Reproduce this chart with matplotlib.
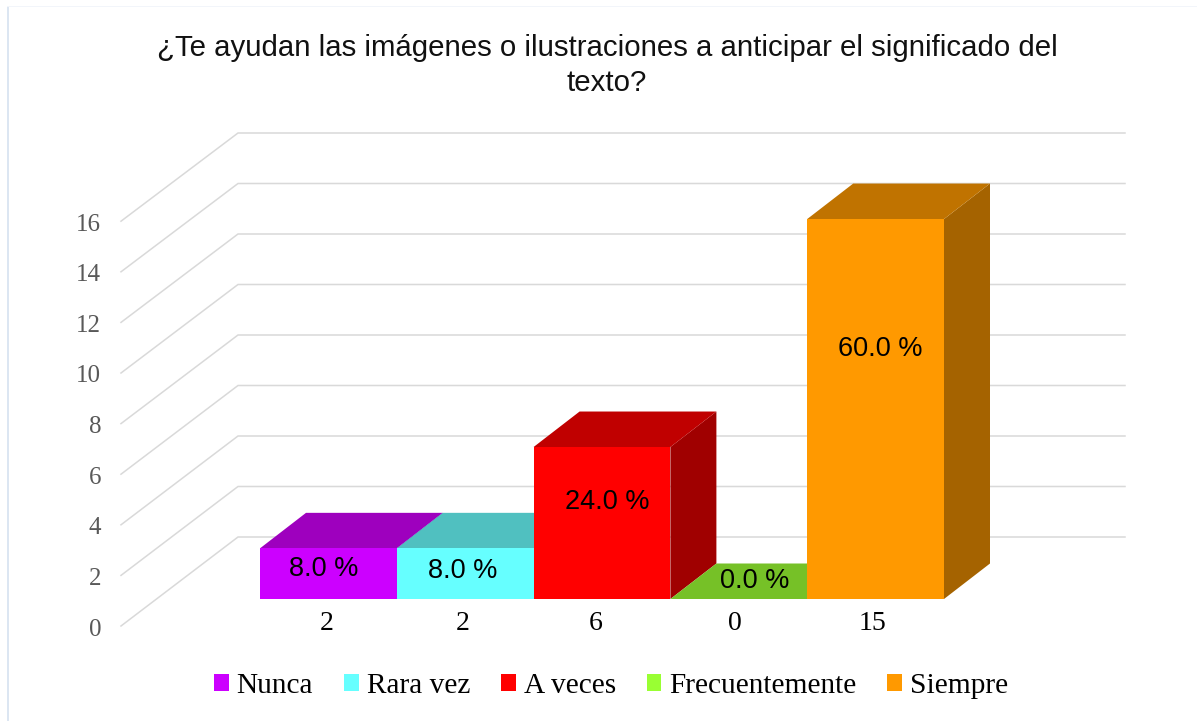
import matplotlib
matplotlib.use('Agg')
import matplotlib.pyplot as plt
from matplotlib.patches import Polygon, Patch, Rectangle

# answers to the survey question
categories = ['Nunca', 'Rara vez', 'A veces', 'Frecuentemente', 'Siempre']
counts = [2, 2, 6, 0, 15]
percents = [8.0, 8.0, 24.0, 0.0, 60.0]
yticks = [0, 2, 4, 6, 8, 10, 12, 14, 16]

colors = ['#CC00FF', '#66FFFF', '#FF0000', '#99FF33', '#FF9900']
top_colors = ['#9E00BE', '#50C0C0', '#C00000', '#76C127', '#C07300']
side_colors = ['#8A00AA', '#45A8A8', '#A00000', '#66A520', '#A56300']

title = '¿Te ayudan las imágenes o ilustraciones a anticipar el significado del\ntexto?'

# pixels of the figure -> data units, y=0 is the front of the bars
W, H = 1197, 721
x0, xs = 260.0, 136.8
y0, ys = 599.0, 25.33


def px(x):
    return (x - x0) / xs


def py(y):
    return (y0 - y) / ys


# depth of the fake 3d look
depth_x = 46 / xs
depth_y = 35.5 / ys

# where the percent labels sit inside each bar
label_x = [324, 463, 607, 755, 880]
label_y = [569, 571, 502, 581, 349]
count_x = [327, 463, 596, 735, 872]

fig = plt.figure(figsize=(W / 100, H / 100), dpi=100)
ax = fig.add_axes([0, 0, 1, 1])
ax.set_xlim(px(0), px(W))
ax.set_ylim(py(H), py(0))
ax.axis('off')

# faint frame of the chart area
fig.patches.append(Rectangle((7 / W, -0.01), 1.5 / W, 1 - 6 / H + 0.01, transform=fig.transFigure,
                             facecolor='#DCE6F2', edgecolor='none'))
fig.patches.append(Rectangle((7 / W, 1 - 6.5 / H), 1 - 7 / W, 1 / H, transform=fig.transFigure,
                             facecolor='#F2F5FA', edgecolor='none'))

# gridlines on the wall and the back
for v in yticks:
    fy = 626 - 25.3 * v
    by = 537 - 25.25 * v
    ax.plot([px(121), px(238), px(1125)], [py(fy), py(by), py(by)], color='#D9D9D9',
            linewidth=1.1, zorder=1, solid_joinstyle='miter')
    ax.text(px(101), py(fy + 3.5), str(v), ha='right', va='center', fontsize=18,
            family='Liberation Serif', color='#595959')

# bars
for i, v in enumerate(counts):
    top = [(i, v), (i + 1, v), (i + 1 + depth_x, v + depth_y), (i + depth_x, v + depth_y)]
    side = [(i + 1, 0), (i + 1 + depth_x, depth_y), (i + 1 + depth_x, v + depth_y), (i + 1, v)]
    ax.add_patch(Polygon(side, closed=True, facecolor=side_colors[i], edgecolor='none', zorder=2 + i))
    ax.add_patch(Polygon(top, closed=True, facecolor=top_colors[i], edgecolor='none', zorder=2 + i))
    ax.bar(i + 0.5, v, width=1, color=colors[i], zorder=2 + i)

for i, p in enumerate(percents):
    ax.text(px(label_x[i]), py(label_y[i]), '%.1f %%' % p, ha='center', va='center',
            fontsize=19.5, family='Liberation Sans', color='black', zorder=10)
    ax.text(px(count_x[i]), py(623), str(counts[i]), ha='center', va='center',
            fontsize=20, family='Liberation Serif', color='black', zorder=10)

ax.text(px(607), py(65.5), title, ha='center', va='center', fontsize=21.2,
        family='Liberation Sans', color='#111111', linespacing=1.32)

handles = [Patch(facecolor=c, edgecolor='none') for c in colors]
ax.legend(handles, categories, loc='center', bbox_to_anchor=(611 / W, 1 - 686 / H), ncol=5,
          frameon=False, handlelength=0.5, handleheight=0.5, handletextpad=0.27,
          columnspacing=1.05, prop={'family': 'Liberation Serif', 'size': 21.2})

plt.savefig('out.png', dpi=100)
